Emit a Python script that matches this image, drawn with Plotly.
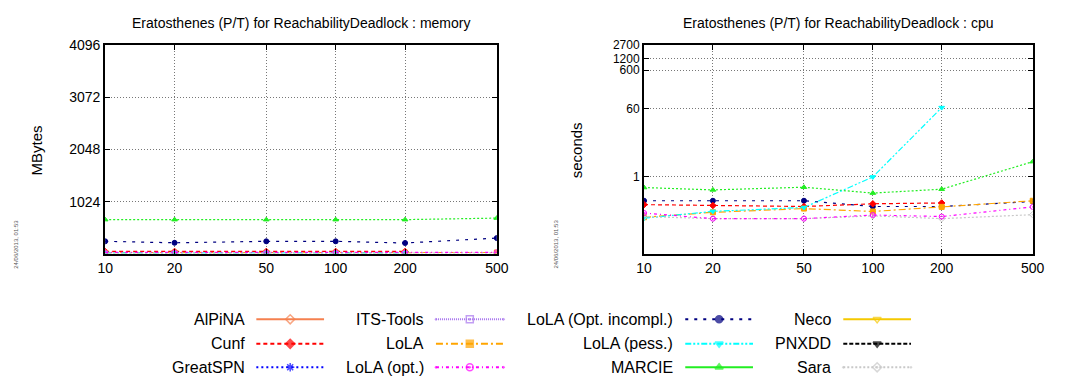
import numpy as np
import plotly.graph_objects as go

W, H = 1083, 382

# ---- data ----
scales = [10, 20, 50, 100, 200, 500]

marcie_mem = [670, 670, 670, 670, 670, 700]
lola_incompl_mem = [244, 215, 244, 244, 211, 308]
cunf_mem = [45, 45, 45, 45, 45, None]
lola_mem = [20, 20, 20, 20, 22, 25]
lola_opt_mem = [25, 25, 25, 25, 25, 28]
lola_pess_mem = [18, 18, 18, 18, 18, None]
sara_mem = [15, 15, 15, 15, 15, 18]

marcie_cpu = [0.53, 0.46, 0.54, 0.38, 0.48, 2.5]
lola_incompl_cpu = [0.24, 0.24, 0.24, 0.17, 0.17, 0.23]
cunf_cpu = [0.19, 0.18, 0.17, 0.2, 0.21, None]
lola_cpu = [0.089, 0.12, 0.15, 0.126, 0.166, 0.24]
lola_pess_cpu = [0.084, 0.127, 0.16, 1.0, 64, None]
lola_opt_cpu = [0.115, 0.082, 0.082, 0.102, 0.093, 0.166]
sara_cpu = [0.093, 0.082, 0.082, 0.097, 0.082, 0.104]

mem_ticks = [1024, 2048, 3072, 4096]
cpu_ticks = [1, 60, 600, 1200, 2700]

tools = ["AlPiNA", "Cunf", "GreatSPN", "ITS-Tools", "LoLA", "LoLA (opt.)",
         "LoLA (Opt. incompl.)", "LoLA (pess.)", "MARCIE", "Neco", "PNXDD", "Sara"]

# style per tool: colour, dash, marker symbol
style = {
    "AlPiNA": ("#f5804f", "solid", "diamond-open"),
    "Cunf": ("#ff0000", "4px,3px", "diamond"),
    "GreatSPN": ("#0000ff", "2px,3px", "asterisk-open"),
    "ITS-Tools": ("#a875ee", "1px,1px", "square-open-dot"),
    "LoLA": ("#ffa500", "7px,3px,2px,3px", "square"),
    "LoLA (opt.)": ("#ff00ff", "3px,3px,1px,3px", "circle-open-dot"),
    "LoLA (Opt. incompl.)": ("#000080", "3px,6px", "circle"),
    "LoLA (pess.)": ("#00ffff", "6px,2px,2px,2px,2px,2px", "triangle-down"),
    "MARCIE": ("#22ee22", "solid", "triangle-up"),
    "Neco": ("#f5c800", "solid", "triangle-down-open"),
    "PNXDD": ("#000000", "4px,2px", "triangle-down"),
    "Sara": ("#c8c8c8", "2px,2px", "diamond-open-dot"),
}

mem_series = {
    "MARCIE": marcie_mem, "LoLA (Opt. incompl.)": lola_incompl_mem,
    "Cunf": cunf_mem, "LoLA": lola_mem, "LoLA (pess.)": lola_pess_mem,
    "Sara": sara_mem, "LoLA (opt.)": lola_opt_mem,
}
cpu_series = {
    "MARCIE": marcie_cpu, "LoLA (Opt. incompl.)": lola_incompl_cpu,
    "Cunf": cunf_cpu, "LoLA": lola_cpu, "LoLA (pess.)": lola_pess_cpu,
    "Sara": sara_cpu, "LoLA (opt.)": lola_opt_cpu,
}
# in the plots MARCIE is drawn dotted
plot_dash = {"MARCIE": "2px,2px"}

FONT = "Liberation Sans, Arial, sans-serif"

# plot frames in pixels
LEFT_X = (99, 498)
RIGHT_X = (648, 1044)
Y_TOP, Y_BOT = 38, 251

fig = go.Figure()


def add_series(series, xa, ya):
    for name, vals in series.items():
        col, dash, sym = style[name]
        fig.add_trace(go.Scatter(
            x=scales, y=vals, mode="lines+markers", xaxis=xa, yaxis=ya,
            line=dict(color=col, width=1.2, dash=plot_dash.get(name, dash)),
            marker=dict(symbol=sym, size=5, color=col, line=dict(color=col, width=1)),
            connectgaps=False, showlegend=False, name=name,
        ))


add_series(mem_series, "x", "y")
add_series(cpu_series, "x2", "y2")

# ---- hand-made legend (text right aligned, sample on the right) ----
col_text_right = [243, 426, 680, 841]
row_y = [318, 343, 367]
annotations = []
for i, name in enumerate(tools):
    c, r = divmod(i, 3)
    tx, ty = col_text_right[c], row_y[r]
    col, dash, sym = style[name]
    x0, x1 = tx + 10, tx + 79
    fig.add_trace(go.Scatter(
        x=[x0, (x0 + x1) / 2, x1], y=[ty, ty, ty], mode="lines+markers",
        xaxis="x3", yaxis="y3",
        line=dict(color=col, width=2, dash=dash),
        marker=dict(symbol=sym, size=[0, 7, 0], color=col, line=dict(color=col, width=1.5)),
        showlegend=False, hoverinfo="skip",
    ))
    annotations.append(dict(
        x=tx / W, y=1 - ty / H, xref="paper", yref="paper", text=name,
        xanchor="right", yanchor="middle", showarrow=False,
        font=dict(size=16, color="black", family=FONT),
    ))

# titles
for (a, b), t in [(LEFT_X, "Eratosthenes (P/T) for ReachabilityDeadlock : memory"),
                  (RIGHT_X, "Eratosthenes (P/T) for ReachabilityDeadlock : cpu")]:
    annotations.append(dict(x=(a + b) / 2 / W, y=1 - 15 / H, xref="paper", yref="paper",
                            text=t, showarrow=False, xanchor="center", yanchor="middle",
                            font=dict(size=14, color="black", family=FONT)))
for cx, t in [(30, "MBytes"), (580, "seconds")]:
    annotations.append(dict(x=cx / W, y=1 - 145 / H, xref="paper", yref="paper", text=t,
                            showarrow=False, textangle=-90, xanchor="center", yanchor="middle",
                            font=dict(size=15, color="black", family=FONT)))
for cx in [8, 558]:
    annotations.append(dict(x=cx / W, y=1 - 268 / H, xref="paper", yref="paper",
                            text="24/06/2013, 01:53", showarrow=False, textangle=-90,
                            xanchor="center", yanchor="bottom",
                            font=dict(size=6, color="#555", family=FONT)))

axis_common = dict(
    showline=True, linecolor="black", linewidth=2, mirror="allticks",
    ticks="inside", ticklen=5, tickcolor="black",
    showgrid=True, gridcolor="#777", griddash="1px,2px", gridwidth=1,
    zeroline=False, tickfont=dict(size=14, color="black", family=FONT),
)
ydom = [1 - Y_BOT / H, 1 - Y_TOP / H]

fig.update_layout(
    width=W, height=H, margin=dict(l=0, r=0, t=0, b=0),
    paper_bgcolor="white", plot_bgcolor="rgba(0,0,0,0)",
    showlegend=False, annotations=annotations,
    xaxis=dict(axis_common, type="log", domain=[LEFT_X[0] / W, LEFT_X[1] / W],
               range=[1, np.log10(500)], tickvals=scales, ticktext=[str(s) for s in scales],
               anchor="y"),
    yaxis=dict(axis_common, range=[0, 4096], tickvals=mem_ticks,
               ticktext=[str(t) for t in mem_ticks], domain=ydom, anchor="x"),
    xaxis2=dict(axis_common, type="log", domain=[RIGHT_X[0] / W, RIGHT_X[1] / W],
                range=[1, np.log10(500)], tickvals=scales, ticktext=[str(s) for s in scales],
                anchor="y2"),
    yaxis2=dict(axis_common, type="log", range=[-2, np.log10(2700)], tickvals=cpu_ticks,
                ticktext=[str(t) for t in cpu_ticks], domain=ydom, anchor="x2"),
    xaxis3=dict(domain=[0, 1], range=[0, W], visible=False, fixedrange=True, anchor="y3"),
    yaxis3=dict(domain=[0, 1 - 300 / H], range=[H, 300], visible=False, fixedrange=True,
                anchor="x3"),
)
# the top three cpu ticks sit close together, a slightly smaller font keeps them apart
fig.update_yaxes(tickfont_size=12, selector=dict(anchor="x2"))

# page body has a default 8px margin; drop it so the figure fills the window
fig.write_html("out.html", config={"displayModeBar": False},
               post_script="document.body.style.margin='0';")
